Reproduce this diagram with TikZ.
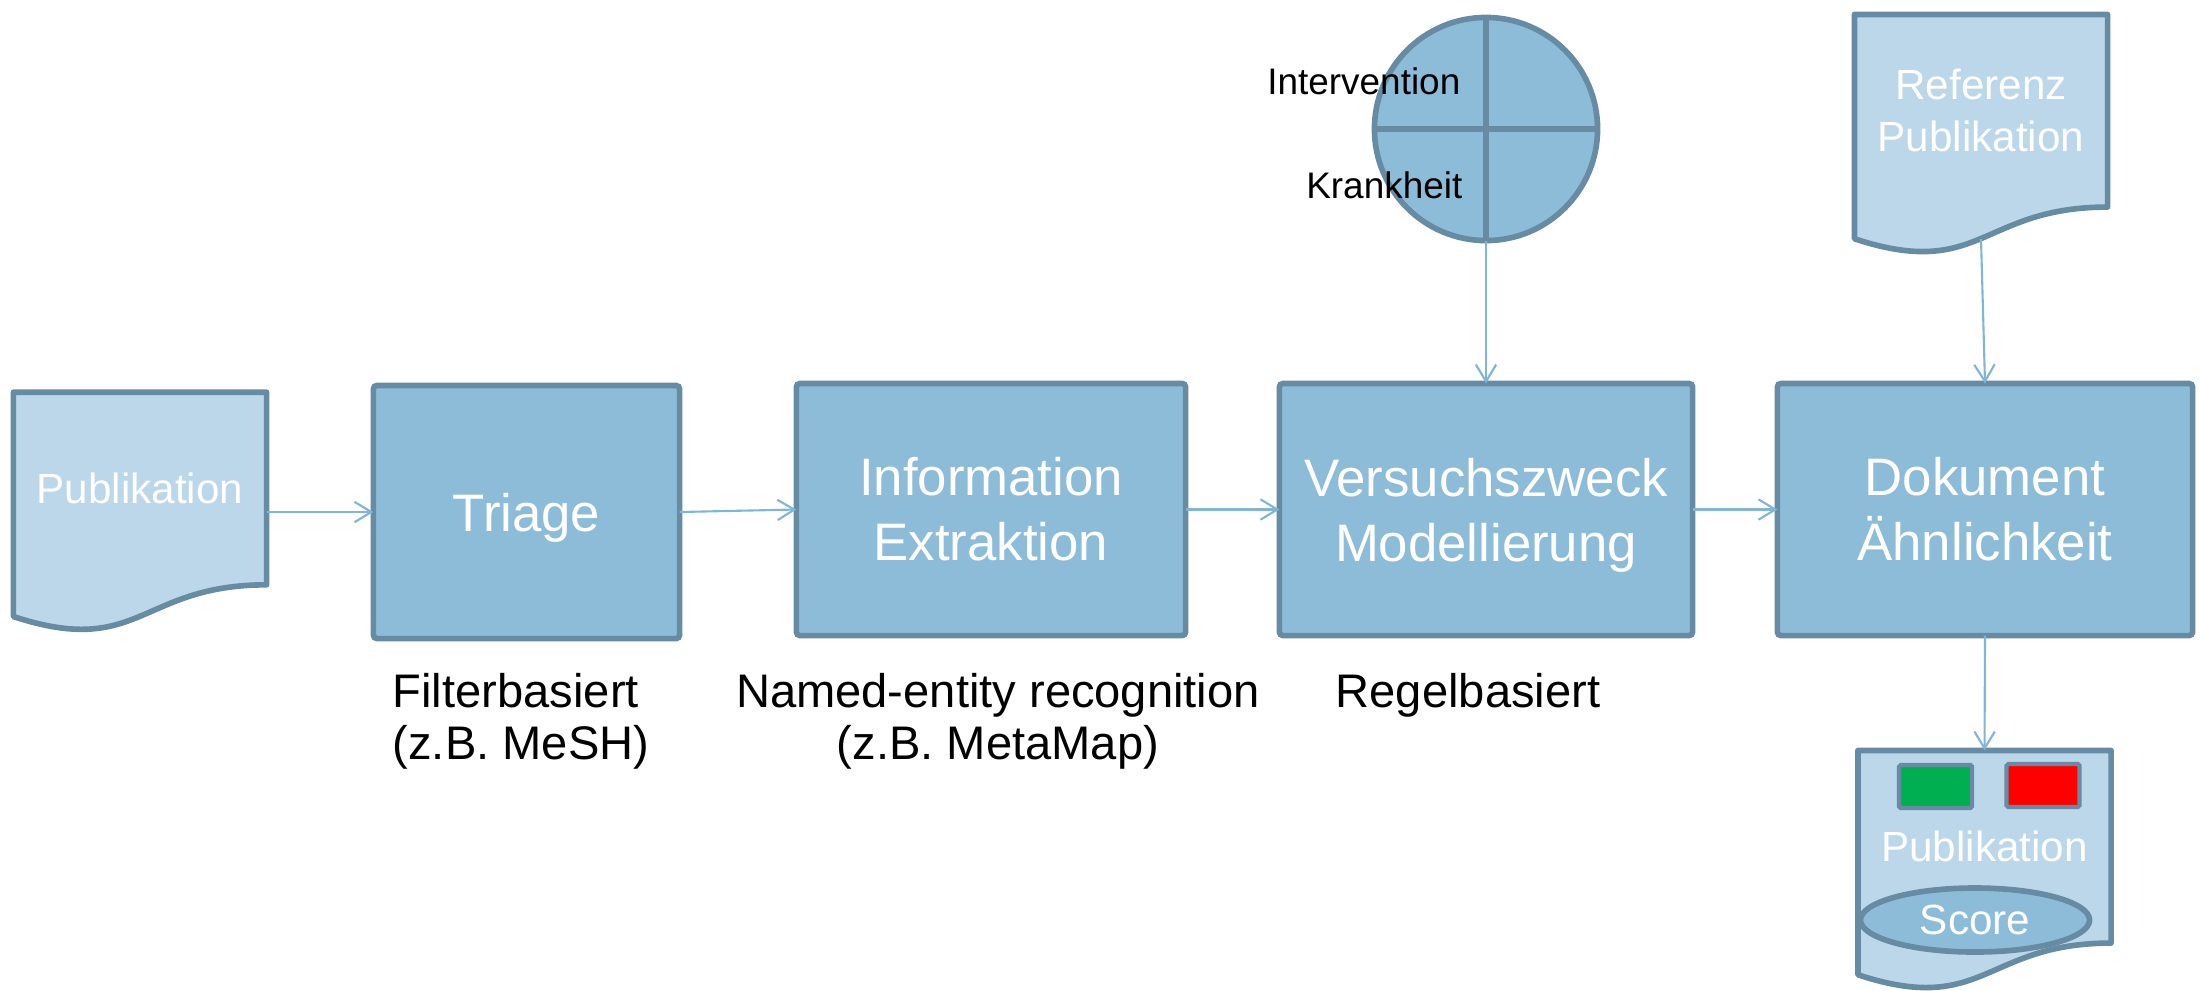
\documentclass[tikz,border=0pt]{standalone}
\usepackage{fontspec}
\setmainfont{Liberation Sans}
\usetikzlibrary{arrows.meta,backgrounds,shapes.geometric}

\definecolor{boxfill}{HTML}{8DBCD9}
\definecolor{boxline}{HTML}{668BA2}
\definecolor{docfill}{HTML}{BBD7E9}
\definecolor{flow}{HTML}{80B5D8}
\definecolor{okgreen}{HTML}{00B050}
\definecolor{badred}{HTML}{FF0000}

\tikzset{
  procbox/.style={rectangle, draw=boxline, fill=boxfill, line width=1.6pt,
    rounded corners=1pt, outer sep=0pt, text=white, align=center,
    font=\fontsize{15}{18.5}\selectfont},
  doctext/.style={rectangle, inner sep=0pt, outer sep=0pt, text=white,
    align=center, font=\fontsize{12}{14.8}\selectfont,
    minimum width=2.53cm, minimum height=1.925cm},
  docshape/.style={draw=boxline, fill=docfill, line width=1.6pt, line join=round},
  flowarrow/.style={draw=flow, line width=0.6pt,
    -{Straight Barb[length=4.8pt,width=5.8pt]}},
  undertext/.style={inner sep=0pt, text=black, align=center,
    font=\fontsize{13.4}{14.8}\selectfont},
  quadnote/.style={inner sep=0pt, text=black, font=\fontsize{10.5}{12}\selectfont},
  flagbox/.style={rectangle, draw=boxline, line width=1.2pt, rounded corners=0.5pt,
    minimum width=0.73cm, minimum height=0.43cm, inner sep=0pt, outer sep=0pt},
}

% text line without descender depth, so that it centres on its capitals
\newcommand\nodepth[1]{\raisebox{0pt}[\height][0pt]{#1}}

% flowchart "document" outline around a text node: straight top and sides,
% wavy bottom edge
\newcommand\drawdocument[1]{%
  \draw[docshape] (#1.north west) -- (#1.north east) -- (#1.south east)
    .. controls (#1.south) and ([yshift=-0.733cm]#1.south) ..
    ([yshift=-0.317cm]#1.south west) -- cycle;}

\begin{document}
\begin{tikzpicture}[x=0.01cm, y=-0.01cm]
\useasboundingbox (0,0) rectangle (2200,990);

% processing chain
\node[doctext] (pub) at (140,488.5) {Publikation};
\node[procbox, minimum width=3.06cm, minimum height=2.53cm] (triage) at (526.5,512) {\nodepth{Triage}};
\node[procbox, minimum width=3.89cm, minimum height=2.52cm] (info) at (991,509.5) {Information\\Extraktion};
\node[procbox, minimum width=4.13cm, minimum height=2.52cm] (versuch) at (1486,509.5) {Versuchszweck\\\nodepth{Modellierung}};
\node[procbox, minimum width=4.15cm, minimum height=2.52cm] (dok) at (1985,509.5) {Dokument\\Ähnlichkeit};

% quartered circle with its labels
\node[circle, draw=boxline, fill=boxfill, line width=1.6pt, minimum size=2.23cm,
  inner sep=0pt, outer sep=0pt] (pico) at (1486,129) {};
\draw[boxline, line width=1.6pt] (pico.north) -- (pico.south) (pico.west) -- (pico.east);
\node[quadnote, anchor=base east] (interv) at (1461,94) {Intervention};
\node[quadnote, anchor=base east] (krank) at (1463,198) {Krankheit};

% reference document and result document
\node[doctext] (ref) at (1981,110.75) {Referenz\\Publikation};
\node[doctext] (res) at (1984.5,846.75) {Publikation};
\node[flagbox, fill=okgreen] (green) at (1935.5,786.5) {};
\node[flagbox, fill=badred] (red) at (2043,785.5) {};
\node[ellipse, draw=boxline, fill=boxfill, line width=1.6pt, minimum width=2.29cm,
  minimum height=0.64cm, inner sep=0pt, outer sep=0pt, text=white,
  font=\fontsize{12}{14}\selectfont] (score) at (1975,920) {Score};

\begin{scope}[on background layer]
  \drawdocument{pub}
  \drawdocument{ref}
  \drawdocument{res}
\end{scope}

% method notes
\node[undertext, anchor=north west, align=left] (filt) at (392,673) {Filterbasiert\\(z.B. MeSH)};
\node[undertext, anchor=north] (ner) at (998,673) {Named-entity recognition\\(z.B. MetaMap)};
\node[undertext, anchor=north west] (regel) at (1335,673) {Regelbasiert};

% connectors
\coordinate (refout) at ([yshift=-0.32cm]ref.south);
\draw[flowarrow] (pub.east |- triage.west) -- (triage.west);
\draw[flowarrow] (triage.east) -- (info.west);
\draw[flowarrow] (info.east) -- (versuch.west);
\draw[flowarrow] (versuch.east) -- (dok.west);
\draw[flowarrow] (pico.south) -- (versuch.north);
\draw[flowarrow] (refout) -- (dok.north);
\draw[flowarrow] (dok.south) -- (res.north);
\end{tikzpicture}
\end{document}
